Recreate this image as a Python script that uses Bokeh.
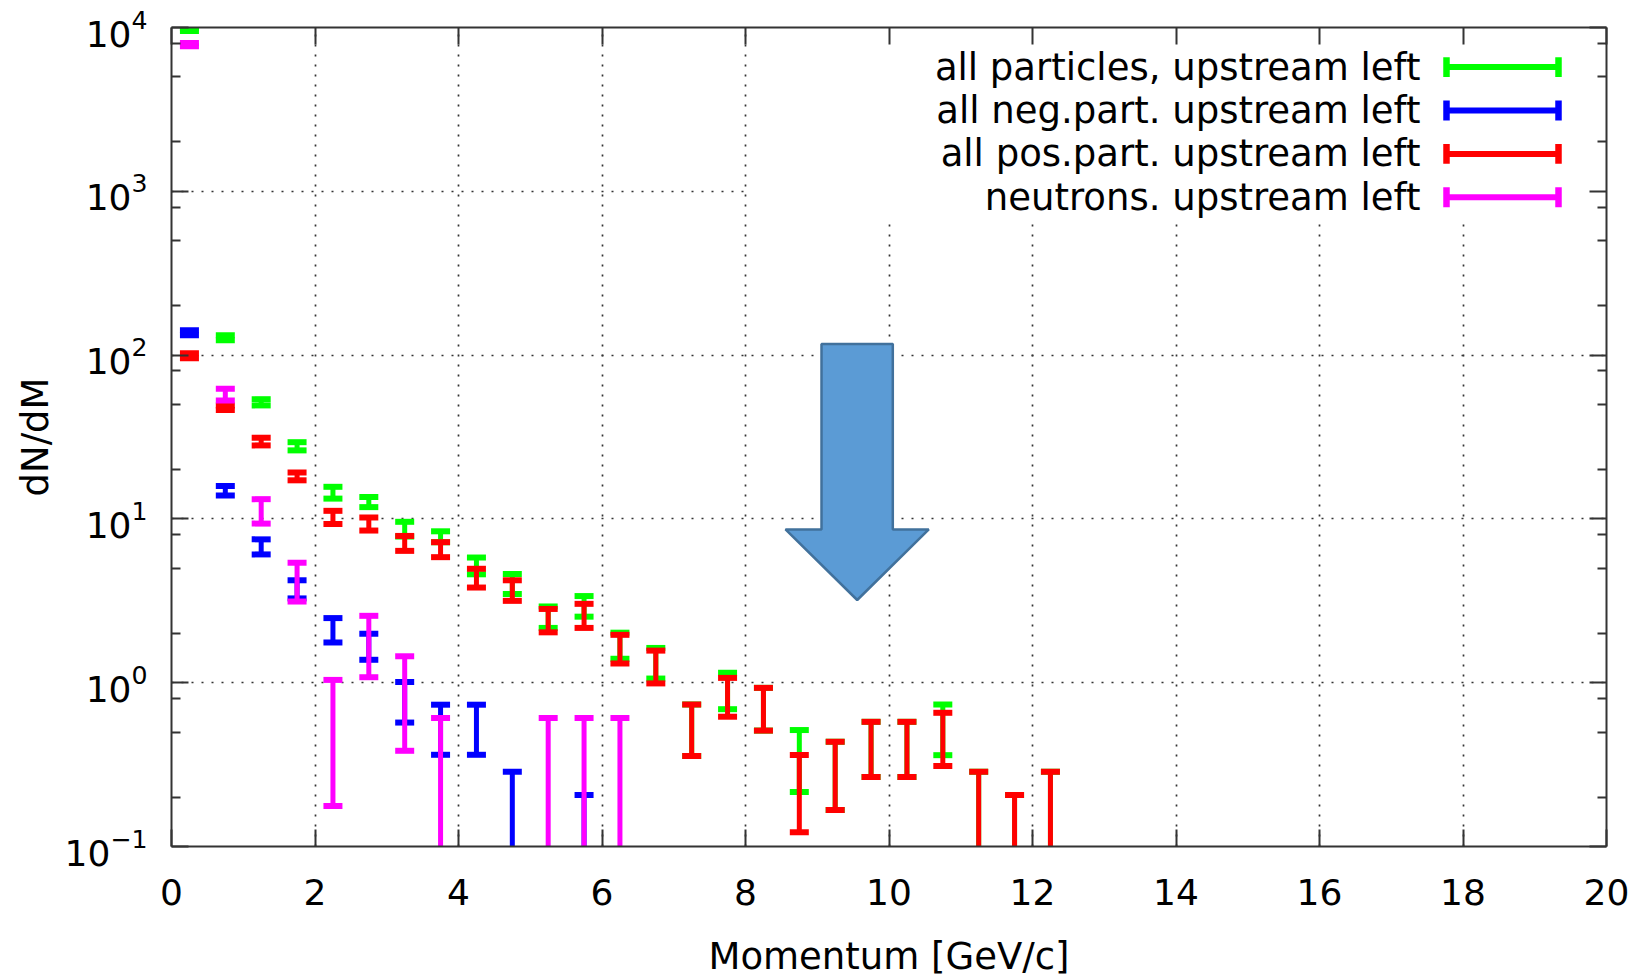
from bokeh.plotting import figure
from bokeh.models import (Range1d, FixedTicker, LinearAxis, LogAxis,
                          CustomJSTickFormatter, ColumnDataSource)
from bokeh.core.properties import value
from bokeh.embed import file_html
from bokeh.resources import INLINE

# ---------------- data ----------------
momentum = [0.25, 0.75, 1.25, 1.75, 2.25, 2.75, 3.25, 3.75, 4.25, 4.75,
            5.25, 5.75, 6.25, 6.75, 7.25, 7.75, 8.25, 8.75, 9.25, 9.75,
            10.25, 10.75, 11.25, 11.75, 12.25]

# lower / upper end of each error bar (None = no entry; 0.01 = bar reaches below the axis)
all_lo = [9520, 123, 49.3, 26.2, 13.3, 11.8, 7.8, 7.2, 4.59, 3.48,
          2.16, 2.53, 1.40, 1.06, 0.357, 0.689, 0.51, 0.215, 0.167, 0.266,
          0.266, 0.361, 0.01, 0.01, 0.01]
all_hi = [9900, 132, 53.8, 29.4, 15.7, 13.6, 9.6, 8.4, 5.81, 4.61,
          2.92, 3.38, 2.02, 1.63, 0.736, 1.15, 0.93, 0.514, 0.436, 0.577,
          0.577, 0.736, 0.286, 0.206, 0.286]

neg_lo = [132, 13.9, 6.07, 3.27, 1.76, 1.38, 0.571, 0.363, 0.363, 0.01,
          None, 0.01, None, None, None, None, None, None, None, None,
          None, None, None, None, None]
neg_hi = [142, 15.9, 7.5, 4.22, 2.48, 1.99, 1.01, 0.734, 0.734, 0.286,
          None, 0.206, None, None, None, None, None, None, None, None,
          None, None, None, None, None]

pos_lo = [95.8, 46.2, 28.1, 17.2, 9.31, 8.49, 6.38, 5.84, 3.81, 3.16,
          2.03, 2.16, 1.31, 0.99, 0.357, 0.62, 0.51, 0.122, 0.167, 0.266,
          0.266, 0.31, 0.01, 0.01, 0.01]
pos_hi = [102.7, 49.3, 31.3, 19.2, 11.2, 10.2, 7.87, 7.21, 4.96, 4.22,
          2.82, 3.03, 1.96, 1.57, 0.736, 1.07, 0.93, 0.362, 0.436, 0.577,
          0.577, 0.655, 0.286, 0.206, 0.286]

neu_lo = [7680, 52.9, 9.36, 3.13, 0.177, 1.08, 0.384, 0.01, None, None,
          0.01, 0.01, 0.01, None, None, None, None, None, None, None,
          None, None, None, None, None]
neu_hi = [8050, 62.3, 13.2, 5.40, 1.04, 2.56, 1.45, 0.609, None, None,
          0.609, 0.609, 0.609, None, None, None, None, None, None, None,
          None, None, None, None, None]

series_names = ["all particles, upstream left", "all neg.part. upstream left",
                "all pos.part. upstream left", "neutrons. upstream left"]
series_colors = ["#00ff00", "#0000ff", "#ff0000", "#ff00ff"]

x_ticks = [0, 2, 4, 6, 8, 10, 12, 14, 16, 18, 20]
y_ticks = [0.1, 1, 10, 100, 1000, 10000]
y_minor_ticks = [0.2, 0.5, 0.8, 2, 5, 8, 20, 50, 80, 200, 500, 800, 2000, 5000, 8000]

x_title = "Momentum [GeV/c]"
y_title = "dN/dM"

# ---------------- layout helpers ----------------
FRAME_W, FRAME_H = 1435, 821
PX_PER_X = FRAME_W / 20.0
PX_PER_DEC = FRAME_H / 5.0
FONT = "DejaVu Sans"


def xpx(px):  # frame-relative pixel -> data x
    return px / PX_PER_X


def ypx(py):  # frame-relative pixel (from top) -> data y
    return 10 ** (4 - py / PX_PER_DEC)


p = figure(width=1652, height=980, x_range=Range1d(0, 20),
           y_range=Range1d(0.1, 10000), y_axis_type="log",
           output_backend="svg", toolbar_location=None,
           min_border_left=171, min_border_right=46,
           min_border_top=27, min_border_bottom=132)
p.background_fill_color = "white"
p.border_fill_color = "white"
p.outline_line_color = None

xa = p.below[0]
ya = p.left[0]

# axes
AX_COL = "#333333"
xt = FixedTicker(ticks=x_ticks, minor_ticks=[])
yt = FixedTicker(ticks=y_ticks, minor_ticks=y_minor_ticks)

top = LinearAxis(ticker=xt, formatter=CustomJSTickFormatter(code="return ''"))
right = LogAxis(ticker=yt, formatter=CustomJSTickFormatter(code="return ''"))
p.add_layout(top, "above")
p.add_layout(right, "right")

for ax in [xa, ya, top, right]:
    ax.axis_line_color = AX_COL
    ax.axis_line_width = 2
    ax.major_tick_line_color = AX_COL
    ax.major_tick_line_width = 2
    ax.minor_tick_line_color = AX_COL
    ax.minor_tick_line_width = 2
    ax.major_tick_in = 17
    ax.major_tick_out = 0
    ax.minor_tick_in = 9
    ax.minor_tick_out = 0
    ax.major_label_text_font = FONT
    ax.major_label_text_color = "black"

for ax in [top, right]:
    ax.major_label_text_font_size = "1px"
    ax.major_label_standoff = 0

xa.ticker = xt
ya.ticker = yt
xa.major_label_text_font_size = "36px"
ya.major_label_text_font_size = "36px"
xa.major_label_standoff = 32
ya.major_label_standoff = 24
xa.axis_label = x_title
ya.axis_label = y_title
for ax in [xa, ya]:
    ax.axis_label_text_font = FONT
    ax.axis_label_text_font_size = "37px"
    ax.axis_label_text_font_style = "normal"
    ax.axis_label_text_color = "black"
xa.axis_label_standoff = 27
ya.axis_label_standoff = 5

# grid
for g in [p.xgrid[0], p.ygrid[0]]:
    g.grid_line_color = "#333333"
    g.grid_line_width = 1.7
    g.grid_line_dash = "2 8"
p.xgrid[0].ticker = xt
p.ygrid[0].ticker = yt

# opaque key box (hides grid lines behind the legend)
p.quad(left=[xpx(577)], right=[20], bottom=[ypx(192)], top=[10000],
       fill_color="white", line_color=None)

# ---------------- error bars ----------------
CAP = 9.5 / PX_PER_X
for lo, hi, col in [(all_lo, all_hi, series_colors[0]),
                    (neg_lo, neg_hi, series_colors[1]),
                    (pos_lo, pos_hi, series_colors[2]),
                    (neu_lo, neu_hi, series_colors[3])]:
    xs, ls, hs = [], [], []
    for x, l, h in zip(momentum, lo, hi):
        if l is None or h is None:
            continue
        xs.append(x); ls.append(l); hs.append(h)
    src = ColumnDataSource(dict(x=xs, lo=ls, hi=hs,
                                xl=[x - CAP for x in xs],
                                xr=[x + CAP for x in xs]))
    p.segment(x0="x", y0="lo", x1="x", y1="hi", source=src,
              line_color=col, line_width=5, line_cap="butt")
    p.segment(x0="xl", y0="lo", x1="xr", y1="lo", source=src,
              line_color=col, line_width=6, line_cap="butt")
    p.segment(x0="xl", y0="hi", x1="xr", y1="hi", source=src,
              line_color=col, line_width=6, line_cap="butt")

# ---------------- key ----------------
ROW0, ROW_DY = 39.7, 43.5
for i, (name, col) in enumerate(zip(series_names, series_colors)):
    py = ROW0 + i * ROW_DY
    p.text(x=[xpx(1249)], y=[ypx(py)], text=[name],
           text_font=value(FONT), text_font_size="37px",
           text_align="right", text_baseline="middle", text_color="black")
    x0, x1 = xpx(1275), xpx(1387)
    p.segment(x0=[x0], y0=[ypx(py)], x1=[x1], y1=[ypx(py)],
              line_color=col, line_width=6, line_cap="butt")
    p.segment(x0=[x0, x1], y0=[ypx(py - 10)] * 2, x1=[x0, x1], y1=[ypx(py + 10)] * 2,
              line_color=col, line_width=6.5, line_cap="butt")

# ---------------- overlaid arrow shape ----------------
arrow_px = [(650, 317.2), (721.3, 317.2), (721.3, 503.2), (757.3, 503.2),
            (685.7, 573.9), (614, 503.2), (650, 503.2)]
p.patch(x=[xpx(a) for a, b in arrow_px], y=[ypx(b) for a, b in arrow_px],
        fill_color="#5B9BD5", line_color="#41719C", line_width=2.5)

open("out.html", "w").write(file_html(p, INLINE))
